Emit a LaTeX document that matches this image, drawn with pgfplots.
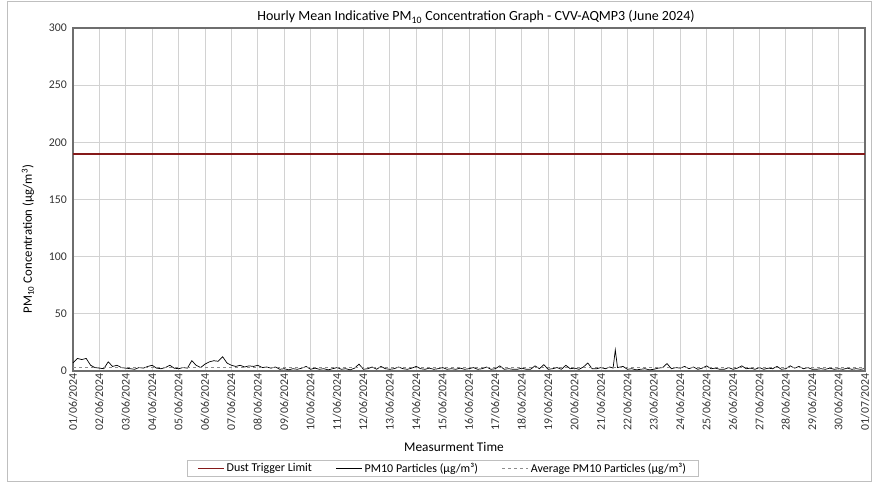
\documentclass[border=0pt]{standalone}
\usepackage{fontspec}
\setmainfont{Carlito}
\usepackage{pgfplots}
\pgfplotsset{compat=1.18}
\definecolor{trig}{rgb}{0.52,0.1,0.1}
\definecolor{gridc}{RGB}{210,210,210}
\definecolor{framec}{RGB}{110,110,110}
\definecolor{avgc}{RGB}{140,140,140}
\begin{document}
\begin{tikzpicture}[x=1pt,y=1pt]
\path[use as bounding box] (0,0) rectangle (872,482);
\draw[gray!50, line width=0.8pt] (7,1) rectangle (871,481);
\begin{axis}[
  at={(73pt,111pt)}, anchor=south west,
  scale only axis, width=792pt, height=343pt,
  xmin=0, xmax=720, ymin=0, ymax=300,
  xtick={0,24,...,720},
  xticklabels={01/06/2024,02/06/2024,03/06/2024,04/06/2024,05/06/2024,06/06/2024,07/06/2024,08/06/2024,09/06/2024,10/06/2024,11/06/2024,12/06/2024,13/06/2024,14/06/2024,15/06/2024,16/06/2024,17/06/2024,18/06/2024,19/06/2024,20/06/2024,21/06/2024,22/06/2024,23/06/2024,24/06/2024,25/06/2024,26/06/2024,27/06/2024,28/06/2024,29/06/2024,30/06/2024,01/07/2024},
  ytick={0,50,...,300},
  major tick length=0pt,
  grid=major,
  major grid style={gridc, line width=0.8pt},
  axis line style={framec, line width=1.3pt},
  /pgf/number format/assume math mode=true,
  tick label style={font=\fontsize{11.8}{13}\selectfont, text=black!80},
  xticklabel style={rotate=90, anchor=east, inner sep=2pt},
  yticklabel style={inner sep=6pt},
  legend style={at={(0.4666,-0.284)}, anchor=center, draw=gray!50, line width=0.6pt,
    font=\fontsize{12}{14}\selectfont, legend columns=3,
    /tikz/every even column/.append style={column sep=22pt},
    inner xsep=10pt, inner ysep=1pt},
  legend image code/.code={\draw[#1] (0pt,0pt) -- (26pt,0pt);},
  legend cell align=left,
  clip=false,
]
\addplot[draw=trig, line width=1.6pt] coordinates {(0,190) (720,190)};
\addlegendentry{Dust Trigger Limit}
\addplot[black, line width=0.7pt] coordinates {
(0,7) (4,11) (8,10) (12,11) (16,5) (20,3)
(24,2.5) (28,2) (32,8) (36,4) (40,5) (44,3)
(48,2.5) (52,2) (56,1.5) (60,3) (64,2.5) (68,4)
(72,5) (76,2.5) (80,2) (84,3) (88,5) (92,2.5)
(96,2) (100,3) (104,2.5) (108,9) (112,5) (116,3)
(120,6) (124,8) (128,9) (132,8.5) (136,12.5) (140,7)
(144,5) (148,4) (152,5) (156,3.5) (160,4.5) (164,4)
(168,5) (172,3) (176,3.5) (180,2.5) (184,3.5) (188,1.5)
(192,2) (196,1) (200,2) (204,1.5) (208,2.5) (212,4)
(216,1.5) (220,2.5) (224,1.5) (228,2) (232,1) (236,2)
(240,3) (244,1.5) (248,2) (252,1) (256,2.5) (260,6)
(264,1.5) (268,2) (272,3.5) (276,1.5) (280,4) (284,2)
(288,1.5) (292,2) (296,3.5) (300,2) (304,1.5) (308,2.5)
(312,4) (316,2) (320,1.5) (324,2.5) (328,1.5) (332,2)
(336,3) (340,1.5) (344,2) (348,1.5) (352,2.5) (356,1.5)
(360,2) (364,3) (368,1.5) (372,2) (376,3.5) (380,1.5)
(384,2) (388,4.5) (392,1.5) (396,2) (400,1.5) (404,1.5)
(408,2.5) (412,1.5) (416,1.5) (420,4.5) (424,2) (428,5.5)
(432,1.5) (436,2) (440,3) (444,1.5) (448,5) (452,2)
(456,2.5) (460,1.5) (464,3.5) (468,7) (472,2) (476,2)
(480,3) (484,2) (488,3.5) (491,2.5) (493,18.5) (495,3) (500,4)
(504,1.5) (508,2) (512,1) (516,1.5) (520,2) (524,1)
(528,1.5) (532,2.5) (536,3) (540,6.5) (544,2) (548,3)
(552,2.5) (556,4) (560,2) (564,3.5) (568,1.5) (572,2.5)
(576,4.5) (580,2) (584,2.5) (588,1.5) (592,1.5) (596,3)
(600,1.5) (604,2.5) (608,4.5) (612,2) (616,2.5) (620,1.5)
(624,3) (628,1.5) (632,2.5) (636,2) (640,4) (644,1.5)
(648,2) (652,4.5) (656,2.5) (660,4) (664,2) (668,3)
(672,1.5) (676,1.5) (680,2) (684,1.5) (688,2.5) (692,1.5)
(696,2) (700,1.5) (704,2.5) (708,1.5) (712,2) (716,1.5) (719,2)
};
\addlegendentry{PM10 Particles (µg/m³)}
\addplot[avgc, dashed, line width=0.9pt] coordinates {(0,3) (720,3)};
\addlegendentry{Average PM10 Particles (µg/m³)}
\end{axis}
\node[font=\fontsize{14}{16}\selectfont] at (476,465) {Hourly Mean Indicative PM\textsubscript{10} Concentration Graph - CVV-AQMP3 (June 2024)};
\node[font=\fontsize{12.8}{14}\selectfont, rotate=90] at (28,243) {PM\textsubscript{10} Concentration (µg/m\textsuperscript{3})};
\node[font=\fontsize{13.3}{15}\selectfont] at (454,35) {Measurment Time};
\end{tikzpicture}
\end{document}
